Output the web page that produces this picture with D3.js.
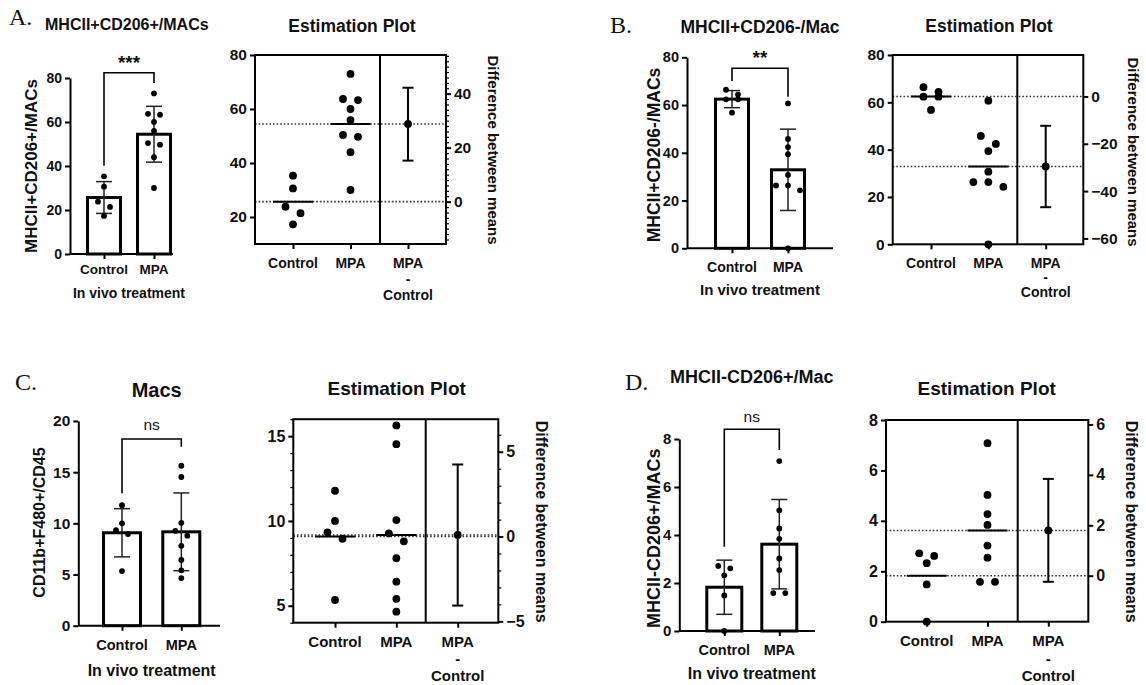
<!DOCTYPE html>
<html>
<head>
<meta charset="utf-8">
<script src="https://cdn.jsdelivr.net/npm/d3@7"></script>
<style>
body { margin: 0; background: #fff; }
</style>
</head>
<body>
<svg id="svg" width="1146" height="685"></svg>
<script>
const groups = ["Control", "MPA"];
const diffLabel = ["MPA", "-", "Control"];

// A. MHCII+CD206+/MACs
const aControl = [35.3, 30.6, 23.8, 21.4, 17.3];
const aMPA = [73, 63.7, 63.3, 60, 55.9, 50.4, 49.7, 44, 30];
const aCI = [15.2, 42.2];
// B. MHCII+CD206-/Mac
const bControl = [66.4, 64.4, 62.4, 62.4, 56.8];
const bMPA = [60.7, 45.8, 42.4, 39.4, 30.7, 26.3, 26.3, 24.3, 0];
const bCI = [-46.8, -12.4];
// C. Macs
const cControl = [11.78, 10, 9.33, 8.95, 5.34];
const cMPA = [15.63, 14.53, 10.05, 9.27, 8.8, 7.8, 6.42, 5.41, 4.65];
const cCI = [-4.07, 4.25];
// D. MHCII-CD206+/Mac
const dControl = [2.71, 2.61, 2.32, 1.48, 0];
const dMPA = [7.08, 5.03, 4.27, 3.84, 3.02, 2.54, 1.58, 1.58];
const dCI = [-0.24, 3.84];

const sansFont = "'Liberation Sans', Arial, sans-serif";
const svg = d3.select("#svg")
    .attr("font-family", sansFont)
    .attr("font-weight", "bold")
    .attr("fill", "#111");

// simple prism-like scatter: points close in y share a row, spread symmetrically
function swarm(values, y, step, gap) {
    const idx = d3.range(values.length).sort((a, b) => values[b] - values[a]);
    const off = [];
    let bin = [];
    const flush = () => {
        bin.forEach((i, k) => off[i] = (k - (bin.length - 1) / 2) * step);
        bin = [];
    };
    idx.forEach(i => {
        if (bin.length && Math.abs(y(values[i]) - y(values[bin[0]])) >= gap) flush();
        bin.push(i);
    });
    flush();
    return off;
}

function styleAxis(sel, fs) {
    sel.attr("font-family", sansFont).attr("font-weight", "bold");
    sel.selectAll("path, line").attr("stroke", "#000").attr("stroke-width", 2);
    sel.selectAll("text").attr("font-size", fs).attr("fill", "#111");
}

function drawBar(c, sets) {
    const g = svg.append("g");
    const y = d3.scaleLinear(c.domain, [c.y0, c.y1]);
    const x = d3.scalePoint(groups, c.xc);
    const means = sets.map(d => d3.mean(d));
    const sds = sets.map(d => d3.deviation(d));

    g.selectAll("rect")
        .data(sets)
        .join("rect")
        .attr("x", (d, i) => x(groups[i]) - c.bw / 2)
        .attr("y", (d, i) => y(means[i]))
        .attr("width", c.bw)
        .attr("height", (d, i) => y(0) - y(means[i]))
        .attr("fill", "#fff")
        .attr("stroke", "#000")
        .attr("stroke-width", 3);

    // mean +- SD
    const eb = g.append("g").attr("stroke", "#222").attr("stroke-width", 1.5);
    sets.forEach((d, i) => {
        const cx = x(groups[i]);
        const lo = y(means[i] - sds[i]), hi = y(means[i] + sds[i]);
        eb.append("line").attr("x1", cx).attr("x2", cx).attr("y1", lo).attr("y2", hi);
        [lo, hi].forEach(v => eb.append("line").attr("x1", cx - 8).attr("x2", cx + 8).attr("y1", v).attr("y2", v));
    });

    sets.forEach((vals, i) => {
        const off = swarm(vals, y, 12, 5.5);
        g.append("g")
            .selectAll("circle")
            .data(vals)
            .join("circle")
            .attr("cx", (d, j) => x(groups[i]) + off[j])
            .attr("cy", d => y(d))
            .attr("r", 2.9)
            .attr("fill", "#000");
    });

    g.append("g")
        .attr("transform", `translate(${c.ax},0)`)
        .call(d3.axisLeft(y).tickValues(c.ticks).tickSize(5).tickSizeOuter(0))
        .call(styleAxis, c.fs);

    g.append("line")
        .attr("x1", c.ax).attr("x2", c.xEnd)
        .attr("y1", y(0)).attr("y2", y(0))
        .attr("stroke", "#000").attr("stroke-width", 2);

    g.append("g")
        .attr("transform", `translate(0,${y(0)})`)
        .call(d3.axisBottom(x).tickSize(5).tickFormat(""))
        .call(s => s.select(".domain").remove())
        .call(styleAxis, c.fs);

    g.selectAll(".xl")
        .data(groups)
        .join("text")
        .attr("x", d => x(d))
        .attr("y", c.xlabY)
        .attr("dy", "0.35em")
        .attr("text-anchor", "middle")
        .attr("font-size", c.xlabSize)
        .text(d => d);

    const mid = (x(groups[0]) + x(groups[1])) / 2;
    g.append("text")
        .attr("x", mid).attr("y", c.treatY).attr("dy", "0.35em")
        .attr("text-anchor", "middle").attr("font-size", c.treatSize)
        .text("In vivo treatment");

    g.append("text")
        .attr("transform", `translate(${c.ylab.x},${c.ylab.y}) rotate(-90)`)
        .attr("dy", "0.35em")
        .attr("text-anchor", "middle").attr("font-size", c.ylab.size)
        .text(c.ylab.text);

    g.append("path")
        .attr("d", `M${x(groups[0])},${c.br.left}V${c.br.top}H${x(groups[1])}V${c.br.right}`)
        .attr("fill", "none").attr("stroke", "#000").attr("stroke-width", 1.6);

    g.append("text")
        .attr("x", mid).attr("y", c.sig.y)
        .attr("text-anchor", "middle").attr("font-size", c.sig.size)
        .attr("font-weight", c.sig.weight)
        .text(c.sig.text);

    g.append("text")
        .attr("x", c.title.x).attr("y", c.title.y)
        .attr("text-anchor", c.title.anchor).attr("font-size", c.title.size)
        .text(c.title.text);

    g.append("text")
        .attr("x", c.letter.x).attr("y", c.letter.y)
        .attr("font-family", "'Liberation Serif', 'Times New Roman', serif")
        .attr("font-weight", "normal").attr("font-size", 24)
        .text(c.letter.text);
}

function drawEst(c, sets, ci) {
    const g = svg.append("g");
    const means = sets.map(d => d3.mean(d));
    const y = d3.scaleLinear(c.domain, [c.y0, c.y1]);
    const yR = d3.scaleLinear(c.domain.map(v => v - means[0]), [c.y0, c.y1]);
    const x = d3.scalePoint([...groups, "diff"], c.xs);

    // dotted reference lines at both means
    g.selectAll(".ref")
        .data(means)
        .join("line")
        .attr("x1", c.lx).attr("x2", c.rx)
        .attr("y1", d => y(d)).attr("y2", d => y(d))
        .attr("stroke", "#333").attr("stroke-width", 1.6)
        .attr("stroke-dasharray", "1.6,2");

    g.append("rect")
        .attr("x", c.lx).attr("y", c.y1)
        .attr("width", c.rx - c.lx).attr("height", c.y0 - c.y1)
        .attr("fill", "none").attr("stroke", "#000").attr("stroke-width", 2);

    g.append("line")
        .attr("x1", c.sep).attr("x2", c.sep)
        .attr("y1", c.y1).attr("y2", c.y0)
        .attr("stroke", "#000").attr("stroke-width", 2);

    // group means
    g.selectAll(".mean")
        .data(means)
        .join("line")
        .attr("x1", (d, i) => x(groups[i]) - 20)
        .attr("x2", (d, i) => x(groups[i]) + 20)
        .attr("y1", d => y(d)).attr("y2", d => y(d))
        .attr("stroke", "#000").attr("stroke-width", 2);

    sets.forEach((vals, i) => {
        const off = swarm(vals, y, 15, 8.5);
        g.append("g")
            .selectAll("circle")
            .data(vals)
            .join("circle")
            .attr("cx", (d, j) => x(groups[i]) + off[j])
            .attr("cy", d => y(d))
            .attr("r", 3.9)
            .attr("fill", "#000");
    });

    // difference between means with CI
    const dx = x("diff");
    const ciG = g.append("g").attr("stroke", "#000").attr("stroke-width", 2);
    ciG.append("line").attr("x1", dx).attr("x2", dx).attr("y1", yR(ci[0])).attr("y2", yR(ci[1]));
    ci.forEach(v => ciG.append("line").attr("x1", dx - 5.5).attr("x2", dx + 5.5).attr("y1", yR(v)).attr("y2", yR(v)));
    g.append("circle").attr("cx", dx).attr("cy", yR(means[1] - means[0])).attr("r", 3.9).attr("fill", "#000");

    // axes
    g.append("g")
        .attr("transform", `translate(${c.lx},0)`)
        .call(d3.axisLeft(y).tickValues(c.lTicks).tickSize(5))
        .call(s => s.select(".domain").remove())
        .call(styleAxis, c.fs);
    if (c.lMinor) {
        g.append("g")
            .attr("transform", `translate(${c.lx},0)`)
            .call(d3.axisLeft(y).tickValues(d3.range(c.domain[0], c.domain[1] + 0.001, c.lMinor)).tickSize(3).tickFormat(""))
            .call(s => s.select(".domain").remove())
            .call(styleAxis, c.fs)
            .selectAll("line").attr("stroke-width", 1.2);
    }
    g.append("g")
        .attr("transform", `translate(${c.rx},0)`)
        .call(d3.axisRight(yR).tickValues(c.rTicks).tickSize(5))
        .call(s => s.select(".domain").remove())
        .call(styleAxis, c.fs);
    if (c.rMinor) {
        const [r0, r1] = yR.domain();
        g.append("g")
            .attr("transform", `translate(${c.rx},0)`)
            .call(d3.axisRight(yR).tickValues(d3.range(Math.ceil(r0 / c.rMinor) * c.rMinor, r1, c.rMinor)).tickSize(3).tickFormat(""))
            .call(s => s.select(".domain").remove())
            .call(styleAxis, c.fs)
            .selectAll("line").attr("stroke-width", 1.2);
    }
    g.append("g")
        .attr("transform", `translate(0,${c.y0})`)
        .call(d3.axisBottom(x).tickSize(5).tickFormat(""))
        .call(s => s.select(".domain").remove())
        .call(styleAxis, c.fs);

    g.selectAll(".xl")
        .data(groups)
        .join("text")
        .attr("x", d => x(d))
        .attr("y", c.xlabY)
        .attr("dy", "0.35em")
        .attr("text-anchor", "middle")
        .attr("font-size", c.xlabSize)
        .text(d => d);
    g.selectAll(".dl")
        .data(diffLabel)
        .join("text")
        .attr("x", dx)
        .attr("y", (d, i) => c.xlabY + i * c.gap)
        .attr("dy", "0.35em")
        .attr("text-anchor", "middle")
        .attr("font-size", c.xlabSize)
        .text(d => d);

    g.append("text")
        .attr("x", c.title.x).attr("y", c.title.y)
        .attr("text-anchor", "middle").attr("font-size", c.title.size)
        .text("Estimation Plot");

    g.append("text")
        .attr("transform", `translate(${c.rlab.x},${c.rlab.y}) rotate(90)`)
        .attr("dy", "0.35em")
        .attr("text-anchor", "middle").attr("font-size", c.rlab.size)
        .text("Difference between means");
}

// panel A
drawBar({
    ax: 70, xEnd: 173, y0: 254, y1: 78, domain: [0, 80], ticks: [0, 20, 40, 60, 80],
    xc: [104, 154], bw: 33, fs: 14, xlabY: 269, xlabSize: 13.5, treatY: 293, treatSize: 14,
    ylab: {text: "MHCII+CD206+/MACs", x: 31, y: 166, size: 17},
    br: {top: 72.7, left: 165.7, right: 83},
    sig: {text: "***", y: 69, size: 19, weight: "bold"},
    title: {text: "MHCII+CD206+/MACs", x: 45, y: 30, anchor: "start", size: 16},
    letter: {text: "A.", x: 9, y: 25}
}, [aControl, aMPA]);
drawEst({
    lx: 255, rx: 446, sep: 380, y0: 244, y1: 55, domain: [10, 80], xs: [293, 408],
    lTicks: [20, 40, 60, 80], rTicks: [0, 20, 40], rMinor: 2, fs: 15.5,
    xlabY: 263, gap: 16, xlabSize: 14,
    title: {x: 352, y: 32, size: 17.5}, rlab: {x: 493, y: 150, size: 15}
}, [aControl, aMPA], aCI);

// panel B
drawBar({
    ax: 687, xEnd: 833, y0: 248.3, y1: 57.3, domain: [0, 80], ticks: [0, 20, 40, 60, 80],
    xc: [732, 788], bw: 33, fs: 14.5, xlabY: 267, xlabSize: 14, treatY: 290, treatSize: 15,
    ylab: {text: "MHCII+CD206-/MACs", x: 654, y: 155, size: 17.5},
    br: {top: 68.3, left: 81, right: 96.7},
    sig: {text: "**", y: 64, size: 19, weight: "bold"},
    title: {text: "MHCII+CD206-/Mac", x: 760, y: 33, anchor: "middle", size: 17.5},
    letter: {text: "B.", x: 610, y: 33}
}, [bControl, bMPA]);
drawEst({
    lx: 892.7, rx: 1083.3, sep: 1017.3, y0: 244.3, y1: 55, domain: [0, 80], xs: [931, 1045.7],
    lTicks: [0, 20, 40, 60, 80], rTicks: [0, -20, -40, -60], fs: 15.5,
    xlabY: 263, gap: 14.5, xlabSize: 14,
    title: {x: 989, y: 32, size: 17.5}, rlab: {x: 1133, y: 152, size: 15}
}, [bControl, bMPA], bCI);

// panel C
drawBar({
    ax: 78.3, xEnd: 220, y0: 625.7, y1: 421, domain: [0, 20], ticks: [0, 5, 10, 15, 20],
    xc: [122, 181.3], bw: 37, fs: 15.5, xlabY: 645, xlabSize: 14.5, treatY: 670, treatSize: 16,
    ylab: {text: "CD11b+F480+/CD45", x: 39, y: 522.5, size: 16},
    br: {top: 439, left: 493.3, right: 446.7},
    sig: {text: "ns", y: 430, size: 15.5, weight: "normal"},
    title: {text: "Macs", x: 156.7, y: 397, anchor: "middle", size: 20},
    letter: {text: "C.", x: 15, y: 390}
}, [cControl, cMPA]);
drawEst({
    lx: 293.3, rx: 498.3, sep: 425.7, y0: 622.7, y1: 419.2, domain: [4, 16], xs: [335, 457.7],
    lTicks: [5, 10, 15], lMinor: 1, rTicks: [-5, 0, 5], rMinor: 1, fs: 16,
    xlabY: 641.5, gap: 17, xlabSize: 15,
    title: {x: 396.7, y: 395, size: 19}, rlab: {x: 541.7, y: 521.7, size: 16}
}, [cControl, cMPA], cCI);

// panel D
drawBar({
    ax: 679.3, xEnd: 815, y0: 631, y1: 439, domain: [0, 8], ticks: [0, 2, 4, 6, 8],
    xc: [724.3, 779.3], bw: 35, fs: 15, xlabY: 650, xlabSize: 14.5, treatY: 673.3, treatSize: 16,
    ylab: {text: "MHCII-CD206+/MACs", x: 654, y: 538.3, size: 18},
    br: {top: 429.3, left: 546.7, right: 450},
    sig: {text: "ns", y: 422, size: 15.5, weight: "normal"},
    title: {text: "MHCII-CD206+/Mac", x: 670, y: 383, anchor: "start", size: 18},
    letter: {text: "D.", x: 625, y: 390}
}, [dControl, dMPA]);
drawEst({
    lx: 886, rx: 1088.3, sep: 1017.7, y0: 621.7, y1: 420, domain: [0, 8], xs: [926.7, 1048.3],
    lTicks: [0, 2, 4, 6, 8], rTicks: [0, 2, 4, 6], fs: 16,
    xlabY: 641, gap: 17.5, xlabSize: 15,
    title: {x: 986.7, y: 395, size: 19}, rlab: {x: 1131.7, y: 521.7, size: 16}
}, [dControl, dMPA], dCI);
</script>
</body>
</html>
